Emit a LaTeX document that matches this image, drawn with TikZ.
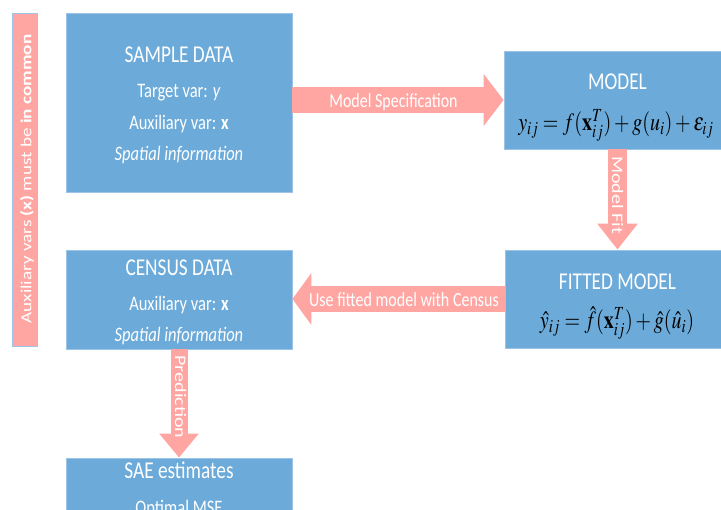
\documentclass[tikz,border=0pt]{standalone}
\usepackage{mathptmx}
\usepackage[no-math]{fontspec}
\setmainfont{Carlito}
\usepackage{graphicx}
\usetikzlibrary{arrows.meta}
\definecolor{boxblue}{RGB}{107,170,217}
\definecolor{boxedge}{RGB}{157,195,230}
\definecolor{fatpink}{RGB}{255,166,163}
\newcommand{\ystr}[1]{\scalebox{1}[1.25]{#1}}
\newcommand{\xstr}[1]{\scalebox{1.25}[1]{#1}}
\begin{document}
\begin{tikzpicture}[x=1pt,y=-1pt,
  box/.style={draw=boxedge, line width=0.8pt, fill=boxblue, minimum width=226pt, inner sep=0pt},
  ttl/.style={font=\fontsize{19.3}{22}\selectfont, text=white, inner sep=0pt, anchor=base},
  bdy/.style={font=\fontsize{16.5}{19}\selectfont, text=white, inner sep=0pt, anchor=base},
  lab/.style={font=\fontsize{16}{19}\selectfont, text=white, inner sep=0pt},
  eqn/.style={font=\fontsize{20}{24}\selectfont, text=black, inner sep=0pt, anchor=base},
  fat/.style={draw=fatpink, line cap=butt}
]
\useasboundingbox (0,0) rectangle (721,510);
\clip (0,0) rectangle (721,510);

% left bar
\node[draw=boxedge, line width=0.8pt, fill=fatpink, minimum width=25pt, minimum height=333pt, inner sep=0pt] (common) at (24.5,179.5) {};
\node[lab, rotate=90, font=\fontsize{15.3}{18}\selectfont] (commonT) at (27,179) {\xstr{Auxiliary vars \textbf{(x)} must be \textbf{in common}}};

% boxes
\node[box, minimum height=179pt] (sample) at (179,102.5) {};
\node[box, minimum width=227pt, minimum height=98pt] (model) at (617.5,100) {};
\node[box, minimum height=98pt] (fitted) at (618,299) {};
\node[box, minimum height=99pt] (census) at (179,299.5) {};
\node[box, minimum height=100pt] (sae) at (179,508) {};

% sample text
\node[ttl] (sampleT) at (179,63) {\ystr{SAMPLE DATA}};
\node[bdy] (sampleY) at (179,98) {\ystr{Target var: \textit{y}}};
\node[bdy] (sampleX) at (179,130) {\ystr{Auxiliary var: \textbf{x}}};
\node[bdy] (sampleS) at (179,160.5) {\ystr{\textit{Spatial information}}};

% model text
\node[ttl] (modelT) at (617.5,90) {\ystr{MODEL}};
\node[eqn] (modelE) at (616,131) {\ystr{$y_{ij} = f(\mathbf{x}_{ij}^{T}) + g(u_{i}) + \varepsilon_{ij}$}};

% fitted text
\node[ttl] (fittedT) at (617.5,289.3) {\ystr{FITTED MODEL}};
\node[eqn] (fittedE) at (617,329) {\ystr{$\hat{y}_{ij} = \hat{f}(\mathbf{x}_{ij}^{T}) + \hat{g}(\hat{u}_{i})$}};

% census text
\node[ttl] (censusT) at (179,276) {\ystr{CENSUS DATA}};
\node[bdy] (censusX) at (179,311) {\ystr{Auxiliary var: \textbf{x}}};
\node[bdy] (censusS) at (179,341.5) {\ystr{\textit{Spatial information}}};

% sae text
\node[ttl] (saeT) at (179,479) {\ystr{SAE estimates}};
\node[bdy] (saeM) at (179,515) {\ystr{Optimal MSE}};

% arrows
\draw[fat, line width=26pt, -{Triangle[length=20pt,width=51pt]}] (sample.east |- model.west) -- (model.west);
\draw[fat, line width=19pt, -{Triangle[length=26pt,width=39pt]}] (model.south) -- (model.south |- fitted.north);
\draw[fat, line width=26pt, -{Triangle[length=19pt,width=51pt]}] (fitted.west) -- (census.east |- fitted.west);
\draw[fat, line width=17pt, -{Triangle[length=24pt,width=38pt]}] (census.south) -- (sae.north);

% arrow labels
\node[lab, anchor=base] (specL) at (393.5,108) {\ystr{Model Specification}};
\node[lab, rotate=-90] (fitL) at (617.5,195) {\xstr{Model Fit}};
\node[lab, anchor=base] (useL) at (404,306.5) {\ystr{Use fitted model with Census}};
\node[lab, rotate=-90] (predL) at (180.5,397) {\xstr{Prediction}};
\end{tikzpicture}
\end{document}
